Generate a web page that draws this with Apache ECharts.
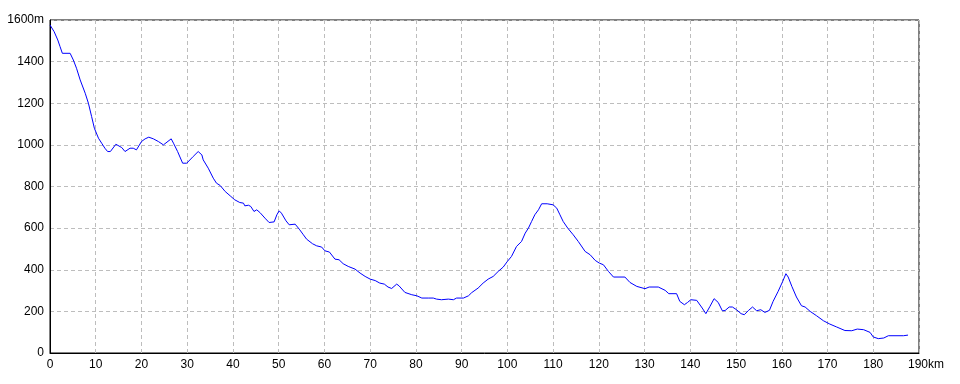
<!DOCTYPE html>
<html>
<head>
<meta charset="utf-8">
<script src="https://cdn.jsdelivr.net/npm/echarts@6/dist/echarts.min.js"></script>
<style>html,body{margin:0;padding:0;background:#fff;}#c{width:960px;height:384px;}</style>
</head>
<body>
<div id="c"></div>
<script>
const distanceKm = [0, 0.9, 1.7, 2.2, 2.7, 4.4, 5.1, 5.8, 6.6, 7.7, 8.4, 9.1, 9.7, 10.6, 11.3, 12.0, 12.6, 13.2, 14.4, 15.7, 16.4, 17.5, 18.2, 18.9, 20.0, 20.8, 21.6, 22.6, 23.7, 24.8, 26.5, 27.0, 27.9, 29.0, 29.9, 31.3, 32.4, 33.2, 33.5, 34.6, 35.7, 36.4, 37.2, 38.3, 39.4, 40.4, 41.5, 42.3, 42.6, 43.4, 43.9, 44.6, 45.2, 45.9, 47.0, 47.9, 49.0, 49.6, 50.1, 50.6, 51.6, 52.3, 53.6, 54.5, 55.4, 56.1, 57.4, 58.3, 59.4, 60.1, 61.1, 62.3, 63.2, 64.1, 65.2, 66.7, 67.8, 68.9, 70.0, 71.1, 72.1, 73.1, 73.9, 74.7, 75.8, 76.3, 77.6, 79.1, 80.2, 81.3, 82.7, 83.8, 84.5, 85.6, 87.1, 88.2, 88.9, 90.4, 91.5, 92.2, 93.6, 94.7, 95.8, 96.9, 98.0, 99.1, 100.0, 100.9, 102.0, 103.1, 103.9, 104.6, 105.3, 106.0, 106.8, 107.5, 108.7, 110.0, 110.8, 111.5, 112.2, 113.2, 114.4, 115.5, 117.0, 118.1, 119.2, 120.1, 121.0, 122.1, 123.2, 125.7, 126.8, 128.3, 130.1, 131.0, 133.0, 134.5, 135.3, 137.0, 137.7, 138.7, 139.4, 140.1, 141.4, 142.6, 143.4, 144.3, 145.2, 146.1, 147.0, 147.6, 148.5, 149.2, 150.1, 151.1, 151.8, 152.7, 153.6, 154.5, 155.4, 156.3, 157.3, 158.1, 159.2, 160.2, 160.9, 161.4, 162.2, 163.2, 164.3, 165.1, 166.2, 167.6, 169.1, 170.5, 172.0, 173.8, 175.3, 176.5, 177.9, 179.3, 180.0, 181.1, 182.3, 183.3, 186.6, 187.6];
const elevationM = [1576, 1544, 1504, 1472, 1440, 1440, 1408, 1368, 1312, 1248, 1200, 1136, 1080, 1032, 1008, 984, 968, 968, 1003, 987, 968, 984, 984, 976, 1016, 1029, 1037, 1029, 1016, 1000, 1029, 1008, 968, 912, 912, 944, 968, 952, 928, 888, 840, 816, 805, 776, 755, 736, 723, 720, 707, 710, 704, 680, 688, 675, 648, 627, 630, 664, 683, 672, 635, 616, 619, 595, 568, 547, 525, 515, 509, 491, 485, 451, 448, 429, 416, 403, 384, 368, 355, 348, 336, 331, 317, 310, 331, 323, 291, 280, 275, 264, 264, 264, 259, 256, 259, 256, 264, 264, 275, 290, 312, 336, 355, 368, 392, 413, 440, 464, 512, 536, 576, 600, 632, 664, 688, 717, 717, 712, 696, 664, 632, 600, 568, 536, 488, 472, 445, 432, 424, 392, 365, 365, 339, 320, 309, 317, 317, 301, 285, 285, 248, 232, 243, 256, 253, 216, 189, 224, 261, 243, 203, 204, 221, 221, 208, 189, 184, 204, 221, 203, 208, 195, 205, 248, 296, 344, 381, 365, 320, 269, 227, 221, 200, 179, 155, 139, 125, 108, 107, 115, 112, 99, 77, 69, 72, 83, 83, 86];
const xMax = 190, xStep = 10, yMax = 1600, yStep = 200;
const xUnit = 'km', yUnit = 'm';

const font = "'Liberation Sans Narrow', 'Liberation Sans', sans-serif";
const chart = echarts.init(document.getElementById('c'), null, {renderer: 'canvas'});
const dash = {color: '#bdbdbd', type: [4, 3], width: 1};
chart.setOption({
  animation: false,
  backgroundColor: '#fff',
  grid: {left: 50, right: 41, top: 20, bottom: 31, show: true, borderColor: '#000', borderWidth: 1, backgroundColor: 'transparent'},
  xAxis: {
    type: 'value', min: 0, max: xMax, interval: xStep,
    axisLine: {show: true, lineStyle: {color: '#000', width: 1}},
    axisTick: {show: false},
    splitLine: {show: true, lineStyle: dash},
    axisLabel: {
      color: '#000', fontFamily: font, fontSize: 12, margin: 6,
      formatter: v => v === xMax ? '{sp|}' + v + xUnit : String(v),
      rich: {sp: {width: 14}}
    }
  },
  yAxis: {
    type: 'value', min: 0, max: yMax, interval: yStep,
    axisLine: {show: true, lineStyle: {color: '#000', width: 1}},
    axisTick: {show: false},
    splitLine: {show: true, lineStyle: dash},
    axisLabel: {
      color: '#000', fontFamily: font, fontSize: 12, margin: 6,
      formatter: v => v === yMax ? v + yUnit : String(v)
    }
  },
  series: [{
    type: 'line',
    data: distanceKm.map((d, i) => [d, elevationM[i]]),
    showSymbol: false,
    symbol: 'none',
    lineStyle: {color: '#0000ff', width: 1},
    z: 5
  }]
});
</script>
</body>
</html>
